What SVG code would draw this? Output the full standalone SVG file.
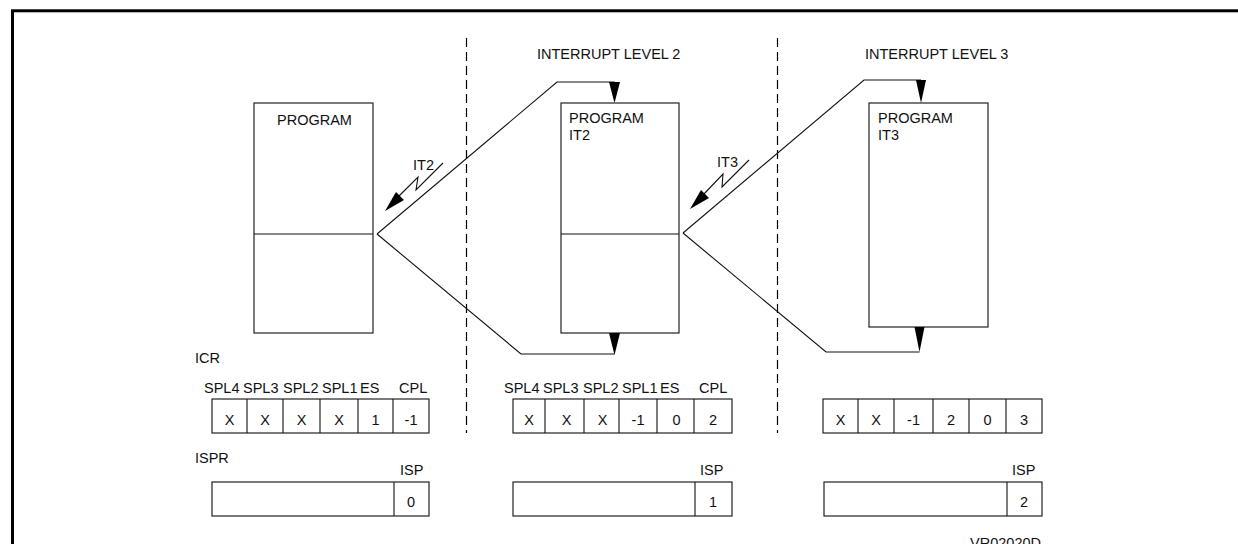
<svg xmlns="http://www.w3.org/2000/svg" width="1238" height="544" viewBox="0 0 1238 544">
<style>
text{font-family:"Liberation Sans",Arial,sans-serif;font-size:14.5px;fill:#111}
.c{text-anchor:middle}
.e{text-anchor:end}
.box{fill:#fff;stroke:#222;stroke-width:1.2}
.ln{fill:none;stroke:#111;stroke-width:1.1}
.dash{stroke:#000;stroke-width:1.2;stroke-dasharray:9 5}
.ah{fill:#000}
</style>
<rect x="12.5" y="10.8" width="1240" height="560" fill="none" stroke="#000" stroke-width="3"/>
<g id="separators">
<line class="dash" x1="466.5" y1="38" x2="466.5" y2="433"/>
<line class="dash" x1="777.5" y1="38" x2="777.5" y2="433"/>
</g>
<g id="headers">
<text x="537" y="59">INTERRUPT LEVEL 2</text>
<text x="865" y="59">INTERRUPT LEVEL 3</text>
</g>
<g id="program">
<rect class="box" x="254" y="103" width="119" height="230"/>
<line class="ln" x1="254" y1="234" x2="373" y2="234"/>
<text x="277" y="125">PROGRAM</text>
</g>
<g id="program-it2">
<rect class="box" x="561" y="103" width="118" height="230"/>
<line class="ln" x1="561" y1="234" x2="679" y2="234"/>
<text x="569" y="123">PROGRAM</text>
<text x="569" y="140">IT2</text>
</g>
<g id="program-it3">
<rect class="box" x="869" y="103" width="119" height="224"/>
<text x="878" y="123">PROGRAM</text>
<text x="878" y="140">IT3</text>
</g>
<g id="connectors">
<polyline class="ln" points="377,234 557,82 614.5,82"/>
<polygon class="ah" points="609,82 620,82 614.5,103"/>
<polyline class="ln" points="377,234 521,354 614.5,354"/>
<polygon class="ah" points="609,333 620,333 614.5,355"/>
<polyline class="ln" points="683,233 864,80 921,80"/>
<polygon class="ah" points="916,80 926,80 921,103"/>
<polyline class="ln" points="683,233 826,352 919.5,352"/>
<polygon class="ah" points="914.5,327 924.5,327 919.5,352"/>
</g>
<g id="it2">
<polyline class="ln" points="443,163 416,190 418,177 398,197"/>
<polygon class="ah" points="385,211 404,200 396,192"/>
<text x="413" y="170">IT2</text>
</g>
<g id="it3">
<polyline class="ln" points="749,160 722,187 723,174 703,195"/>
<polygon class="ah" points="690,209 709,198 701,190"/>
<text x="717" y="167">IT3</text>
</g>
<g id="icr1">
<text x="195" y="363">ICR</text>
<text x="204" y="393">SPL4</text>
<text x="243" y="393">SPL3</text>
<text x="283" y="393">SPL2</text>
<text x="322" y="393">SPL1</text>
<text x="360" y="393">ES</text>
<text x="399" y="393">CPL</text>
<rect class="box" x="212" y="399" width="217" height="34"/>
<path class="ln" d="M247,399V433M283,399V433M320,399V433M358,399V433M393,399V433"/>
<text class="c" x="229.5" y="425">X</text>
<text class="c" x="265" y="425">X</text>
<text class="c" x="301.5" y="425">X</text>
<text class="c" x="339" y="425">X</text>
<text class="c" x="375.5" y="425">1</text>
<text class="c" x="411" y="425">-1</text>
</g>
<g id="icr2">
<text x="504" y="393">SPL4</text>
<text x="543" y="393">SPL3</text>
<text x="583" y="393">SPL2</text>
<text x="622" y="393">SPL1</text>
<text x="660" y="393">ES</text>
<text x="699" y="393">CPL</text>
<rect class="box" x="513" y="399" width="219" height="34"/>
<path class="ln" d="M545,399V433M584,399V433M619,399V433M657,399V433M694,399V433"/>
<text class="c" x="529" y="425">X</text>
<text class="c" x="566.5" y="425">X</text>
<text class="c" x="602.5" y="425">X</text>
<text class="c" x="638" y="425">-1</text>
<text class="c" x="676.5" y="425">0</text>
<text class="c" x="713" y="425">2</text>
</g>
<g id="icr3">
<rect class="box" x="823" y="399" width="219" height="34"/>
<path class="ln" d="M858,399V433M894,399V433M933,399V433M969,399V433M1006,399V433"/>
<text class="c" x="840.5" y="425">X</text>
<text class="c" x="876" y="425">X</text>
<text class="c" x="913.5" y="425">-1</text>
<text class="c" x="951" y="425">2</text>
<text class="c" x="987.5" y="425">0</text>
<text class="c" x="1024" y="425">3</text>
</g>
<g id="ispr1">
<text x="195" y="463">ISPR</text>
<text x="400" y="475">ISP</text>
<rect class="box" x="212" y="482" width="217" height="34"/>
<line class="ln" x1="394" y1="482" x2="394" y2="516"/>
<text class="c" x="411" y="507">0</text>
</g>
<g id="ispr2">
<text x="700" y="475">ISP</text>
<rect class="box" x="513" y="482" width="219" height="34"/>
<line class="ln" x1="695" y1="482" x2="695" y2="516"/>
<text class="c" x="713" y="507">1</text>
</g>
<g id="ispr3">
<text x="1012" y="475">ISP</text>
<rect class="box" x="824" y="482" width="218" height="34"/>
<line class="ln" x1="1007" y1="482" x2="1007" y2="516"/>
<text class="c" x="1024" y="507">2</text>
</g>
<text class="e" x="1041" y="548">VR02020D</text>
</svg>
